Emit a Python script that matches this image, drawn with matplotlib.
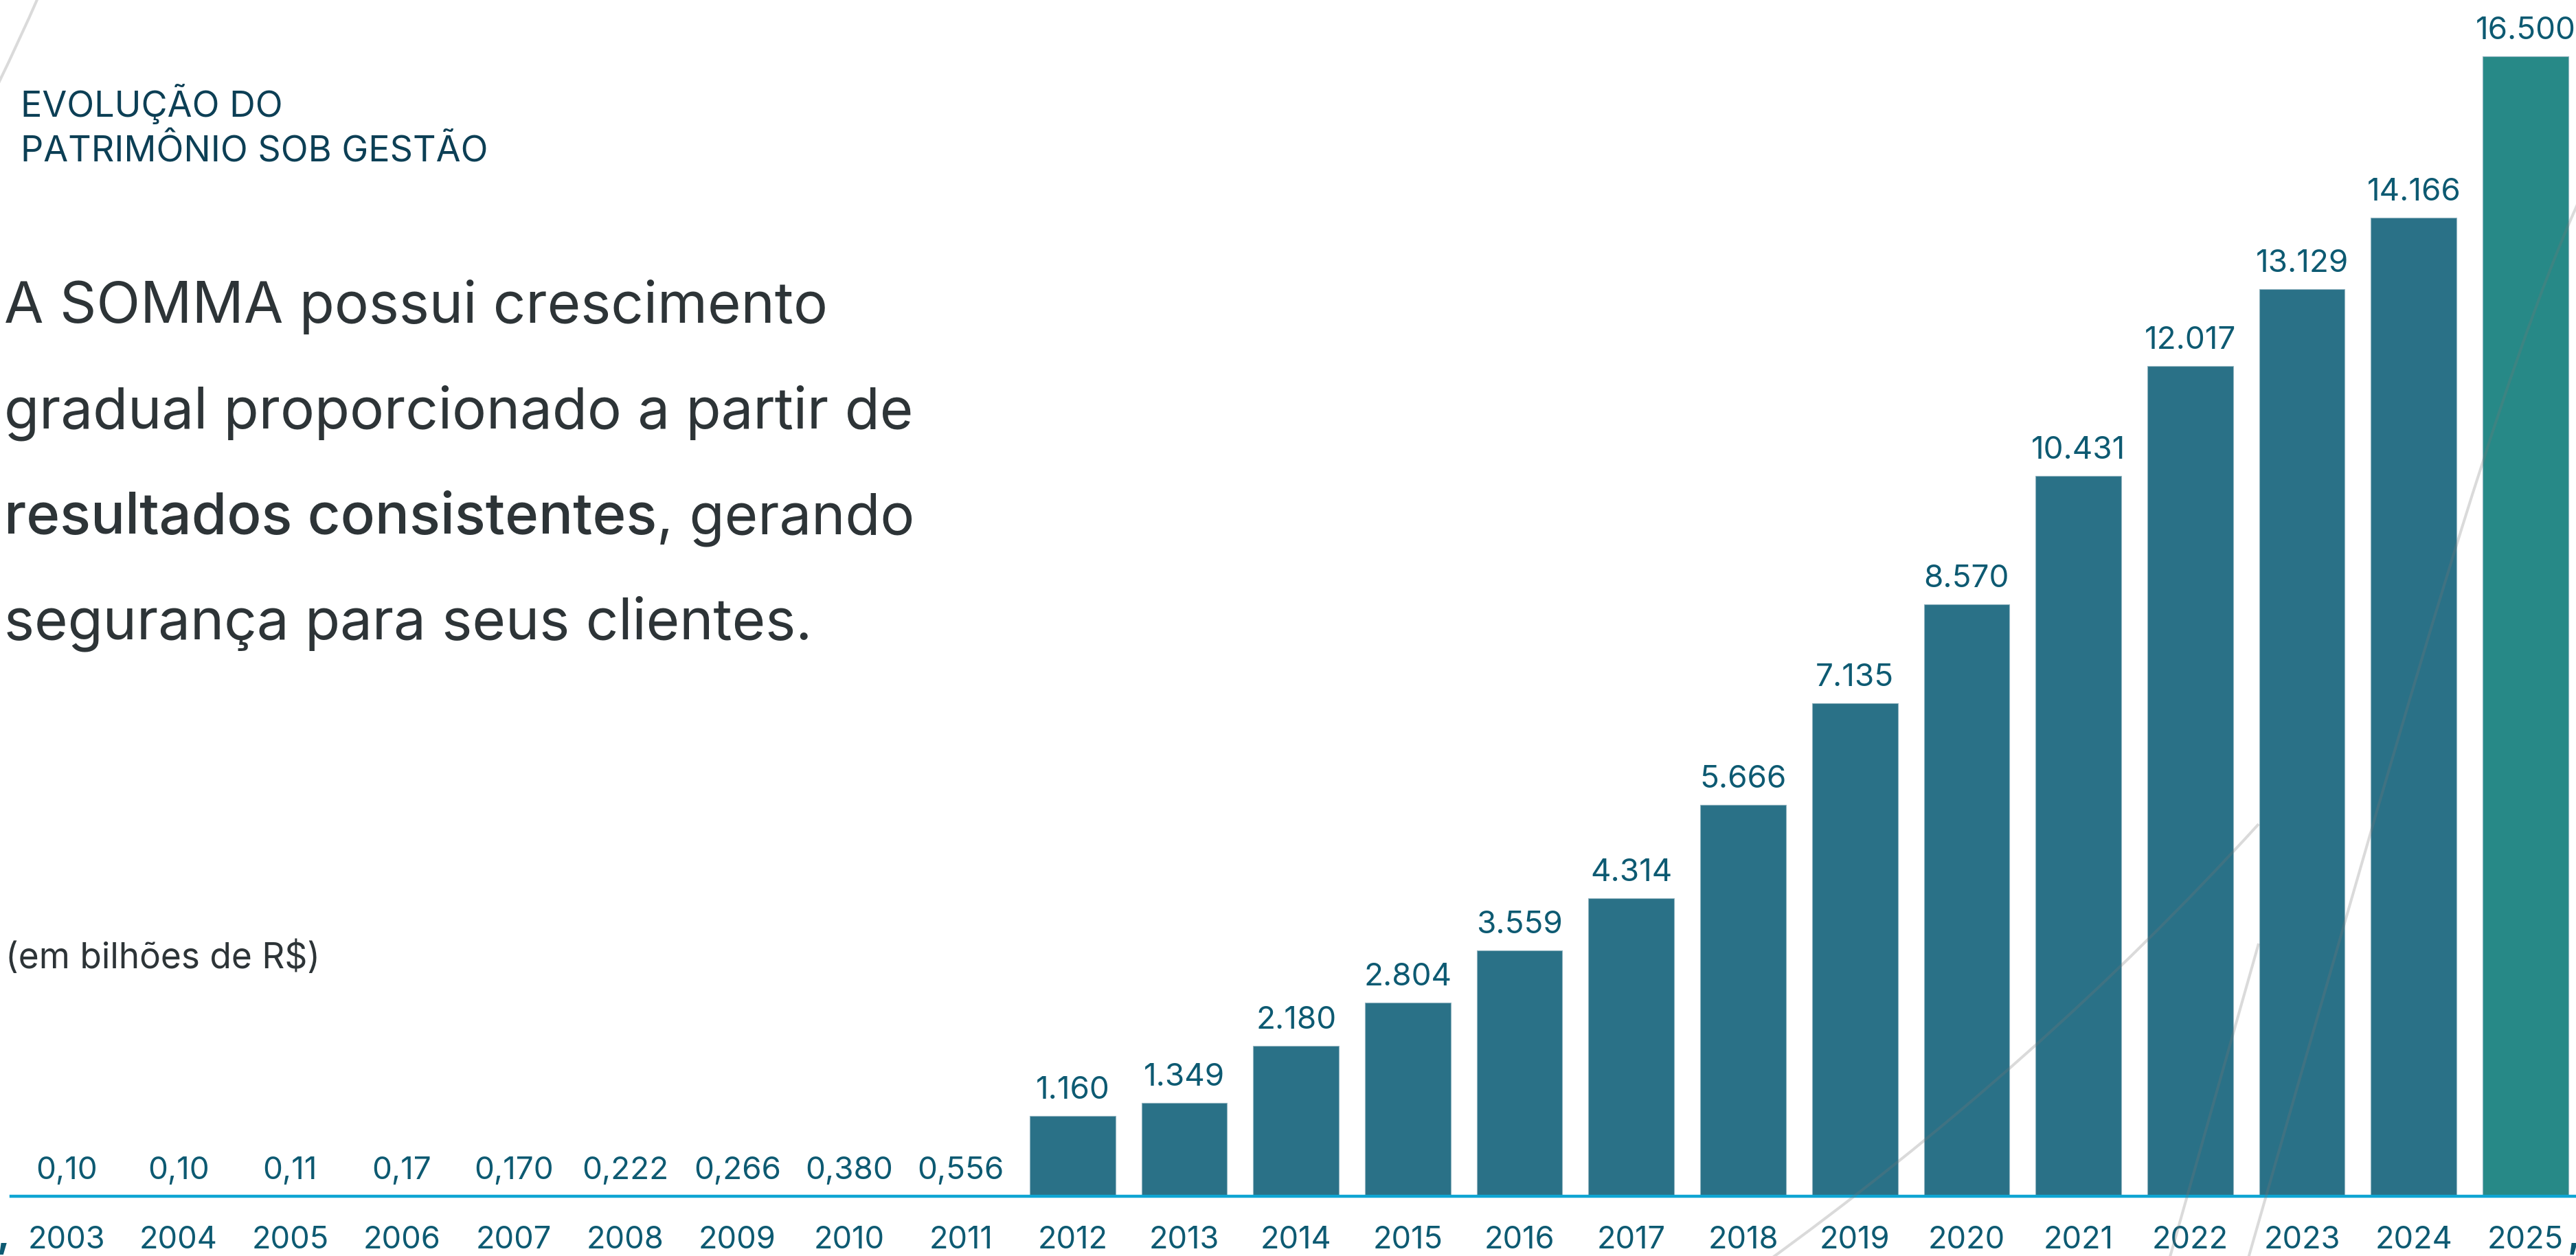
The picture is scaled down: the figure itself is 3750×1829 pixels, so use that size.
import numpy as np
import matplotlib
matplotlib.use("Agg")
import matplotlib.pyplot as plt
from matplotlib.path import Path
from matplotlib.patches import PathPatch
import matplotlib.transforms as mtransforms

plt.rcParams["font.family"] = ["Inter", "DejaVu Sans"]

# data -- patrimonio sob gestao (labels mix R$ bi and R$ mi, as in the original)
years = [2003, 2004, 2005, 2006, 2007, 2008, 2009, 2010, 2011, 2012, 2013,
         2014, 2015, 2016, 2017, 2018, 2019, 2020, 2021, 2022, 2023, 2024, 2025]
values = [0.10, 0.10, 0.11, 0.17, 0.170, 0.222, 0.266, 0.380, 0.556,
          1160, 1349, 2180, 2804, 3559, 4314, 5666, 7135, 8570, 10431,
          12017, 13129, 14166, 16500]
value_labels = ["0,10", "0,10", "0,11", "0,17", "0,170", "0,222", "0,266",
                "0,380", "0,556", "1.160", "1.349", "2.180", "2.804", "3.559",
                "4.314", "5.666", "7.135", "8.570", "10.431", "12.017",
                "13.129", "14.166", "16.500"]

W, H, DPI = 3750, 1829, 100

BAR_COLOR = "#2a7187"
LAST_COLOR = "#278987"
LABEL_COLOR = "#0d5a72"
TITLE_COLOR = "#0c3f55"
TEXT_COLOR = "#2d3437"
AXIS_COLOR = "#0ea5d3"

fig = plt.figure(figsize=(W / DPI, H / DPI), dpi=DPI)
fig.patch.set_facecolor("white")
ax = fig.add_axes([0, 0, 1, 1])
ax.set_axis_off()

# layout of the chart area in pixels
x0_px, pitch_px = 97, 162.7
base_px, px_per_unit = 1742, 0.1006
ax.set_xlim(-x0_px / pitch_px, (W - x0_px) / pitch_px)
ax.set_ylim(-(H - base_px) / px_per_unit, base_px / px_per_unit)

x = np.arange(len(years))
colors = [BAR_COLOR] * (len(years) - 1) + [LAST_COLOR]
ax.bar(x, values, width=0.766, color=colors, edgecolor="#93b6c1",
       linewidth=0.8, zorder=2)

# baseline
ax.axhline(0, xmin=16 / W, xmax=1, color=AXIS_COLOR, linewidth=3.2, zorder=4)

for xi, v, lab in zip(x, values, value_labels):
    ax.annotate(lab, (xi, v), xytext=(0, 18), textcoords="offset points",
                ha="center", va="baseline", fontsize=33, color=LABEL_COLOR,
                zorder=5)

ytr = ax.get_xaxis_transform()
for xi, yr in zip(x, years):
    ax.text(xi, 1 - 1818 / H, str(yr), transform=ytr, ha="center",
            va="baseline", fontsize=32.5, color=LABEL_COLOR, zorder=5)

# decorative background strokes (pixel coords, y down)
px = mtransforms.Affine2D().scale(1, -1).translate(0, H) + \
    mtransforms.Affine2D().scale(1.0 / W, 1.0 / H) + fig.transFigure
curves = [
    ([(2560, 1846), (2968, 1552), (3288, 1200)], [Path.MOVETO, Path.CURVE3, Path.CURVE3]),
    ([(3150, 1862), (3288, 1374)], [Path.MOVETO, Path.LINETO]),
    ([(3265, 1860), (3500, 1040), (3640, 540), (3760, 280)],
     [Path.MOVETO, Path.CURVE4, Path.CURVE4, Path.CURVE4]),
    ([(56, -5), (30, 55), (-4, 125)], [Path.MOVETO, Path.CURVE3, Path.CURVE3]),
]
for verts, codes in curves:
    fig.add_artist(PathPatch(Path(verts, codes), transform=px, fill=False,
                             edgecolor="#787878", alpha=0.27, linewidth=2.9,
                             zorder=3))

# titles and copy
def ftext(xp, yp, s, **kw):
    return fig.text(xp / W, 1 - yp / H, s, va="baseline", ha="left", **kw)

ftext(30, 170, "EVOLUÇÃO DO", fontsize=37.5, color=TITLE_COLOR)
ftext(30, 236, "PATRIMÔNIO SOB GESTÃO", fontsize=37.5, color=TITLE_COLOR)

body_size = 60
ftext(6, 470, "A SOMMA possui crescimento", fontsize=body_size, color=TEXT_COLOR)
ftext(6, 623, "gradual proporcionado a partir de", fontsize=body_size, color=TEXT_COLOR)
bold = ftext(6, 777, "resultados consistentes", fontsize=body_size,
             color=TEXT_COLOR, fontweight="medium")
renderer = fig.canvas.get_renderer()
bb = bold.get_window_extent(renderer=renderer)
ftext(bb.x1, 777, ", gerando", fontsize=body_size, color=TEXT_COLOR)
ftext(6, 930, "segurança para seus clientes.", fontsize=body_size, color=TEXT_COLOR)

ftext(8, 1410, "(em bilhões de R$)", fontsize=37, color=TEXT_COLOR)

# clipped marks at the bottom corners
ftext(-4, 1816, ",", fontsize=40, color=LABEL_COLOR, fontweight="bold")
ftext(3738, 1816, ",", fontsize=40, color=LABEL_COLOR, fontweight="bold")

fig.savefig("out.png", dpi=DPI, facecolor="white")
